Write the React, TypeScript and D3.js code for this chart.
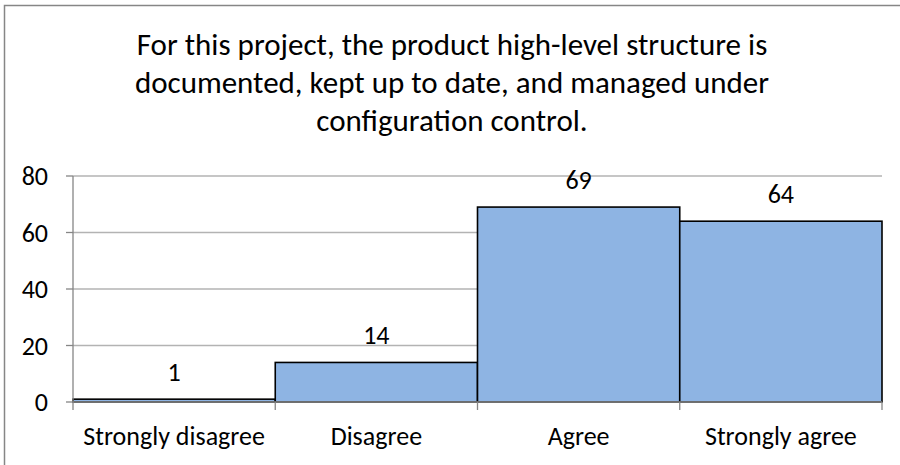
import React from 'react';
import * as d3 from 'd3';

// survey answers for the chart
const categories = ['Strongly disagree', 'Disagree', 'Agree', 'Strongly agree'];
const counts = [1, 14, 69, 64];
const yTicks = [0, 20, 40, 60, 80];
const titleLines = [
  'For this project, the product high-level structure is',
  'documented, kept up to date, and managed under',
  'configuration control.',
];

const font = "Carlito, Calibri, Lato, 'Open Sans', sans-serif";

const App = () => {
  const width = 900;
  const height = 465;
  const marginLeft = 73;
  const marginRight = 18;
  const marginTop = 176;
  const marginBottom = 63;

  const x = d3.scaleBand<string>()
    .domain(categories)
    .range([marginLeft, width - marginRight])
    .padding(0);

  const y = d3.scaleLinear()
    .domain([0, 80])
    .range([height - marginBottom, marginTop]);

  const bounds = categories.map((c) => x(c) as number).concat([width - marginRight]);

  return (
    <svg width={width} height={height} style={{ position: 'absolute', left: 0, top: 0 }}>
      <rect x={0} y={0} width={width} height={height} fill="white" />
      {/* outer chart frame */}
      <rect x={4.5} y={5.5} width={width + 10} height={height + 10} fill="none" stroke="#868686" strokeWidth={1.5} />

      {titleLines.map((t, i) => (
        <text key={i} x={452} y={55 + i * 38} textAnchor="middle" fontFamily={font} fontSize={31} fill="#000">
          {t}
        </text>
      ))}

      {/* gridlines */}
      {yTicks.filter((t) => t > 0).map((t) => (
        <line key={t} x1={marginLeft} x2={width - marginRight} y1={y(t)} y2={y(t)} stroke="#b3b3b3" strokeWidth={1.3} />
      ))}

      {/* bars */}
      {categories.map((c, i) => (
        <rect
          key={c}
          x={x(c)}
          y={y(counts[i])}
          width={x.bandwidth()}
          height={y(0) - y(counts[i])}
          fill="#8eb4e3"
          stroke="#000"
          strokeWidth={1.6}
        />
      ))}

      {/* y axis */}
      <line x1={marginLeft} x2={marginLeft} y1={y(80)} y2={y(0)} stroke="#868686" strokeWidth={1.3} />
      {yTicks.map((t) => (
        <g key={t}>
          <line x1={marginLeft - 7} x2={marginLeft} y1={y(t)} y2={y(t)} stroke="#868686" strokeWidth={1.3} />
          <text x={48} y={y(t)} dy="0.35em" textAnchor="end" fontFamily={font} fontSize={26} fill="#000">
            {t}
          </text>
        </g>
      ))}

      {/* x axis */}
      <line x1={marginLeft} x2={width - marginRight} y1={y(0)} y2={y(0)} stroke="#868686" strokeWidth={1.6} />
      {bounds.map((b, i) => (
        <line key={i} x1={b} x2={b} y1={y(0)} y2={y(0) + 8} stroke="#868686" strokeWidth={1.3} />
      ))}
      {categories.map((c) => (
        <text key={c} x={(x(c) as number) + x.bandwidth() / 2} y={445} textAnchor="middle" fontFamily={font} fontSize={26} fill="#000">
          {c}
        </text>
      ))}

      {/* data labels */}
      {categories.map((c, i) => (
        <text key={c} x={(x(c) as number) + x.bandwidth() / 2} y={y(counts[i]) - 18} textAnchor="middle" fontFamily={font} fontSize={26} fill="#000">
          {counts[i]}
        </text>
      ))}
    </svg>
  );
};

export default App;
